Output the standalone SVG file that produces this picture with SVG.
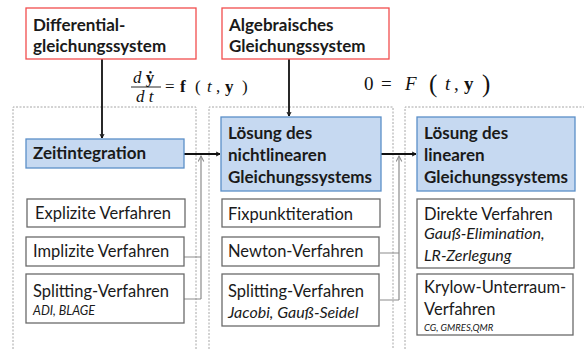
<svg xmlns="http://www.w3.org/2000/svg" width="584" height="349" viewBox="0 0 584 349">
<style>
.bg{fill:#fff}
.dash{fill:none;stroke:#a6a6a6;stroke-width:1;stroke-dasharray:2,1.5}
.red{fill:#fff;stroke:#f24d4d;stroke-width:1.3}
.blue{fill:#c6d9f1;stroke:#5b8fc8;stroke-width:1.3}
.wb{fill:#fff;stroke:#6a6a6a;stroke-width:1.3}
.t{font-family:Lato,"Liberation Sans",sans-serif;font-size:16.5px;fill:#1a1a1a}
.b{font-weight:bold;font-size:17px}
.i{font-style:italic;font-size:16px}
.s{font-size:12.5px}
.xs{font-size:9.5px}
.m{font-family:"Liberation Serif","DejaVu Serif",serif;fill:#111;font-size:17px}
.m2{font-size:19px}
.par{font-size:25px}
.blk{stroke:#111;stroke-width:1.8;fill:none}
.gry{stroke:#8c8c8c;stroke-width:1.2;fill:none}
</style>
<defs>
<marker id="ab" viewBox="0 0 10 10" refX="9" refY="5" markerWidth="5" markerHeight="5" orient="auto" markerUnits="userSpaceOnUse" overflow="visible">
<path d="M1,1 L9,5 L1,9" fill="none" stroke="#111" stroke-width="2"/>
</marker>
<marker id="ag" viewBox="0 0 10 10" refX="9" refY="5" markerWidth="7" markerHeight="7" orient="auto" markerUnits="userSpaceOnUse">
<path d="M1,1 L9,5 L1,9" fill="none" stroke="#8c8c8c" stroke-width="1.5"/>
</marker>
</defs>
<rect class="bg" width="584" height="349"/>
<g id="frames">
<path class="dash" d="M13,349 V107 H196 V349"/>
<path class="dash" d="M209,349 V107 H393 V349"/>
<path class="dash" d="M405,349 V107 H590"/>
</g>
<g id="connectors">
<path class="gry" d="M184,257 H201 M184,299 H201 M201,299 V156" marker-end="url(#ag)"/>
<path class="gry" d="M380,253 H399 M380,300 H399 M399,300 V156" marker-end="url(#ag)"/>
<path class="blk" d="M102,59 V138" marker-end="url(#ab)"/>
<path class="blk" d="M289,59 V116" marker-end="url(#ab)"/>
<path class="blk" d="M184,154 H220" marker-end="url(#ab)"/>
<path class="blk" d="M380,154 H416" marker-end="url(#ab)"/>
</g>
<g id="n-dgl">
<rect class="red" x="26" y="8" width="170" height="51"/>
<text class="t b" x="33" y="31">Differential-</text>
<text class="t b" x="33" y="52">gleichungssystem</text>
</g>
<g id="n-ags">
<rect class="red" x="222" y="8" width="167" height="51"/>
<text class="t b" x="229" y="31">Algebraisches</text>
<text class="t b" x="229" y="52">Gleichungssystem</text>
</g>
<g id="eq1">
<text class="m" x="133" y="83"><tspan font-style="italic">d</tspan> <tspan font-weight="bold">ẏ</tspan></text>
<line x1="131" y1="87" x2="161" y2="87" stroke="#111" stroke-width="0.9"/>
<text class="m" x="136" y="102" font-style="italic">d t</text>
<text class="m" x="165" y="92">=</text>
<text class="m" x="180" y="92" font-weight="bold">f</text>
<text class="m" x="195" y="92">(</text>
<text class="m" x="207" y="92" font-style="italic">t</text>
<text class="m" x="216" y="92">,</text>
<text class="m" x="225" y="92" font-weight="bold">y</text>
<text class="m" x="242" y="92">)</text>
</g>
<g id="eq2">
<text class="m m2" x="364" y="90">0</text>
<text class="m m2" x="381" y="90">=</text>
<text class="m m2" x="405" y="90" font-style="italic">F</text>
<text class="m par" x="429" y="92">(</text>
<text class="m m2" x="445" y="90" font-style="italic">t</text>
<text class="m m2" x="454" y="90">,</text>
<text class="m m2" x="464" y="90" font-weight="bold">y</text>
<text class="m par" x="482" y="92">)</text>
</g>
<g id="n-zeit">
<rect class="blue" x="26" y="139" width="158" height="29"/>
<text class="t b" x="33" y="159">Zeitintegration</text>
</g>
<g id="n-expl">
<rect class="wb" x="27" y="199" width="158" height="28"/>
<text class="t" x="35" y="219">Explizite Verfahren</text>
</g>
<g id="n-impl">
<rect class="wb" x="26" y="237" width="158" height="29"/>
<text class="t" x="33" y="257">Implizite Verfahren</text>
</g>
<g id="n-split1">
<rect class="wb" x="26" y="274" width="158" height="49"/>
<text class="t" x="33" y="297">Splitting-Verfahren</text>
<text class="t i s" x="33" y="315">ADI, BLAGE</text>
</g>
<g id="n-nlgs">
<rect class="blue" x="221" y="117" width="160" height="74"/>
<text class="t b" x="228" y="139">Lösung des</text>
<text class="t b" x="228" y="161">nichtlinearen</text>
<text class="t b" x="228" y="183">Gleichungssystems</text>
</g>
<g id="n-fix">
<rect class="wb" x="222" y="199" width="158" height="28"/>
<text class="t" x="228" y="220">Fixpunktiteration</text>
</g>
<g id="n-newton">
<rect class="wb" x="222" y="237" width="157" height="29"/>
<text class="t" x="228" y="257">Newton-Verfahren</text>
</g>
<g id="n-split2">
<rect class="wb" x="222" y="274" width="157" height="52"/>
<text class="t" x="228" y="297">Splitting-Verfahren</text>
<text class="t i" x="228" y="318">Jacobi, Gauß-Seidel</text>
</g>
<g id="n-lgs">
<rect class="blue" x="417" y="117" width="158" height="74"/>
<text class="t b" x="424" y="139">Lösung des</text>
<text class="t b" x="424" y="161">linearen</text>
<text class="t b" x="424" y="183">Gleichungssystems</text>
</g>
<g id="n-direkt">
<rect class="wb" x="417" y="199" width="157" height="69"/>
<text class="t" x="424" y="220">Direkte Verfahren</text>
<text class="t i" x="424" y="239">Gauß-Elimination,</text>
<text class="t i" x="424" y="261">LR-Zerlegung</text>
</g>
<g id="n-krylow">
<rect class="wb" x="417" y="274" width="156" height="61"/>
<text class="t" x="424" y="293">Krylow-Unterraum-</text>
<text class="t" x="424" y="315">Verfahren</text>
<text class="t i xs" x="424" y="331">CG, GMRES,QMR</text>
</g>
</svg>
